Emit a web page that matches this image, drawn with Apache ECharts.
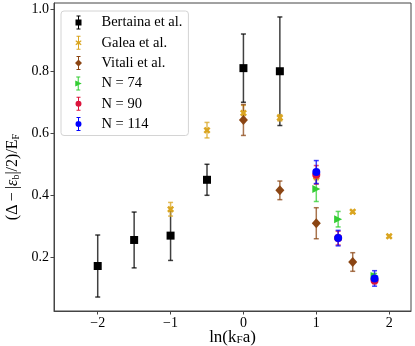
<!DOCTYPE html>
<html>
<head>
<meta charset="utf-8">
<script src="https://cdn.jsdelivr.net/npm/echarts@6/dist/echarts.min.js"></script>
<style>
  html, body { margin: 0; padding: 0; background: #fff; }
  #myChart { width: 415px; height: 346px; }
</style>
</head>
<body>
<div id="myChart"></div>
<script>
// values; each errorbar is y +/- err
var bertainaX = [-2, -1.5, -1, -0.5, 0, 0.5];
var bertainaY = [0.172, 0.256, 0.270, 0.450, 0.810, 0.800];
var bertainaErr = [0.100, 0.090, 0.080, 0.050, 0.110, 0.175];

var galeaX = [-1, -0.5, 0, 0.5, 1, 1.5, 2];
var galeaY = [0.355, 0.610, 0.665, 0.650, 0.460, 0.347, 0.268];
var galeaErr = [0.022, 0.025, 0.025, 0.010, 0.010, 0.004, 0.004];

var vitaliX = [0, 0.5, 1, 1.5];
var vitaliY = [0.643, 0.416, 0.310, 0.185];
var vitaliErr = [0.050, 0.030, 0.050, 0.030];

var n74X = [1, 1.3, 1.8];
var n74Y = [0.420, 0.323, 0.140];
var n74Err = [0.040, 0.025, 0.008];

var n90X = [1, 1.3, 1.8];
var n90Y = [0.466, 0.262, 0.125];
var n90Err = [0.030, 0.022, 0.010];

var n114X = [1, 1.3, 1.8];
var n114Y = [0.475, 0.262, 0.132];
var n114Err = [0.037, 0.025, 0.025];

var xTicks = [-2, -1, 0, 1, 2];
var yTicks = [0.2, 0.4, 0.6, 0.8, 1.0];

var FONT = 'Liberation Serif';

function zipData(xs, ys, es){
    var out = [];
    for(var i=0; i<xs.length; i++){
        out.push([xs[i], ys[i], es[i]]);
    }
    return out;
}

// marker shapes
var SYM_X = 'path://M2.5,0 L5,2.5 L7.5,0 L10,2.5 L7.5,5 L10,7.5 L7.5,10 L5,7.5 L2.5,10 L0,7.5 L2.5,5 L0,2.5 Z';
var SYM_TRI = 'path://M0,0 L10,5 L0,10 Z';

// legend icons: errorbar + marker in one path (8 wide, 14 tall)
var barPath = 'M3.5,0 L4.5,0 L4.5,14 L3.5,14 Z M2,0 L6,0 L6,1 L2,1 Z M2,13 L6,13 L6,14 L2,14 Z ';
var ICON_SQUARE = 'path://' + barPath + 'M1,4 L7,4 L7,10 L1,10 Z';
var ICON_X = 'path://' + barPath + 'M1.5,4.5 L4,6 L6.5,4.5 L7,5.5 L5.3,7 L7,8.5 L6.5,9.5 L4,8 L1.5,9.5 L1,8.5 L2.7,7 L1,5.5 Z';
var ICON_DIAMOND = 'path://' + barPath + 'M4,3.5 L7.5,7 L4,10.5 L0.5,7 Z';
var ICON_TRI = 'path://' + barPath + 'M1,4 L7.5,7 L1,10 Z';
var ICON_CIRCLE = 'path://' + barPath + 'M4,4 A3,3 0 1 1 3.99,4 Z';

function errorSeries(name, data, color){
    return {
        name: name,
        type: 'custom',
        data: data,
        z: 2,
        silent: true,
        renderItem: function(params, api){
            var x = api.value(0), y = api.value(1), e = api.value(2);
            var top = api.coord([x, y + e]);
            var bot = api.coord([x, y - e]);
            var st = { stroke: color, lineWidth: 1.5, opacity: 0.75 };
            return {
                type: 'group',
                children: [
                    { type: 'line', shape: { x1: top[0], y1: top[1], x2: bot[0], y2: bot[1] }, style: st },
                    { type: 'line', shape: { x1: top[0]-2.5, y1: top[1], x2: top[0]+2.5, y2: top[1] }, style: st },
                    { type: 'line', shape: { x1: bot[0]-2.5, y1: bot[1], x2: bot[0]+2.5, y2: bot[1] }, style: st }
                ]
            };
        }
    };
}

function markerSeries(name, data, color, symbol, size){
    return {
        name: name,
        type: 'scatter',
        data: data,
        symbol: symbol,
        symbolSize: size,
        z: 3,
        itemStyle: { color: color, opacity: 1 },
        emphasis: { disabled: true }
    };
}

var sets = [
    { name: 'Bertaina et al.', x: bertainaX, y: bertainaY, e: bertainaErr, color: '#000000', sym: 'rect', size: 8, icon: ICON_SQUARE },
    { name: 'Galea et al.', x: galeaX, y: galeaY, e: galeaErr, color: '#DAA520', sym: SYM_X, size: 7, icon: ICON_X },
    { name: 'Vitali et al.', x: vitaliX, y: vitaliY, e: vitaliErr, color: '#8B4513', sym: 'diamond', size: [9, 10], icon: ICON_DIAMOND },
    { name: 'N = 74', x: n74X, y: n74Y, e: n74Err, color: '#32CD32', sym: SYM_TRI, size: 8, icon: ICON_TRI },
    { name: 'N = 90', x: n90X, y: n90Y, e: n90Err, color: '#DC143C', sym: 'circle', size: 8, icon: ICON_CIRCLE },
    { name: 'N = 114', x: n114X, y: n114Y, e: n114Err, color: '#0000FF', sym: 'circle', size: 8, icon: ICON_CIRCLE }
];

var seriesList = [];
var legendData = [];
for(var i=0; i<sets.length; i++){
    var s = sets[i];
    var d = zipData(s.x, s.y, s.e);
    seriesList.push(errorSeries(s.name, d, s.color));
    seriesList.push(markerSeries(s.name, d, s.color, s.sym, s.size));
    legendData.push({ name: s.name, icon: s.icon, itemStyle: { color: s.color } });
}

function minusFmt(v){
    return String(v).replace('-', '\u2212');
}

var option = {
    animation: false,
    backgroundColor: '#fff',
    textStyle: { fontFamily: FONT },
    grid: {
        left: 54, right: 4, top: 3, bottom: 35,
        outerBoundsMode: 'none', containLabel: false,
        show: true, borderColor: '#444', borderWidth: 1, backgroundColor: 'transparent'
    },
    legend: {
        orient: 'vertical',
        left: 61, top: 11,
        padding: [4, 6, 4, 14],
        itemWidth: 36, itemHeight: 14, itemGap: 5.3,
        symbolKeepAspect: true,
        backgroundColor: '#fff',
        borderColor: '#d4d4d4', borderWidth: 1, borderRadius: 3,
        textStyle: { fontFamily: FONT, fontSize: 14.5, color: '#000' },
        selectedMode: false,
        data: legendData
    },
    xAxis: {
        type: 'value',
        min: -2.6, max: 2.3,
        name: 'ln(k{sub|F}a)',
        nameLocation: 'middle',
        nameGap: 18,
        nameMoveOverlap: false,
        nameTextStyle: {
            fontFamily: FONT, fontSize: 17, color: '#000',
            rich: { sub: { fontFamily: FONT, fontSize: 11, verticalAlign: 'bottom', padding: [6, 0, 0, 0] } }
        },
        axisLine: { show: true, onZero: false, lineStyle: { color: '#444', width: 1 } },
        axisTick: { show: true, inside: false, length: 3.5, customValues: xTicks, lineStyle: { color: '#444' } },
        axisLabel: { customValues: xTicks, fontFamily: FONT, fontSize: 14, color: '#000', margin: 5, formatter: minusFmt },
        splitLine: { show: false }
    },
    yAxis: {
        type: 'value',
        min: 0.027, max: 1.02,
        name: '(\u0394\u2009\u2212\u2009|{it|\u03b5}{sub|b}|/2)/E{sub|F}',
        nameLocation: 'middle',
        nameRotate: 90,
        nameGap: 33,
        nameMoveOverlap: false,
        nameTextStyle: {
            fontFamily: FONT, fontSize: 16, color: '#000',
            padding: [0, 40, 0, 0],
            rich: {
                it: { fontFamily: FONT, fontSize: 16, fontStyle: 'italic' },
                sub: { fontFamily: FONT, fontSize: 10, verticalAlign: 'bottom', padding: [6, 0, 0, 0] }
            }
        },
        axisLine: { show: true, onZero: false, lineStyle: { color: '#444', width: 1 } },
        axisTick: { show: true, inside: false, length: 3.5, customValues: yTicks, lineStyle: { color: '#444' } },
        axisLabel: { customValues: yTicks, fontFamily: FONT, fontSize: 14, color: '#000', margin: 5, formatter: function(v){ return v.toFixed(1); } },
        splitLine: { show: false }
    },
    series: seriesList
};

var myChart = echarts.init(document.getElementById('myChart'));
myChart.setOption(option);
</script>
</body>
</html>
